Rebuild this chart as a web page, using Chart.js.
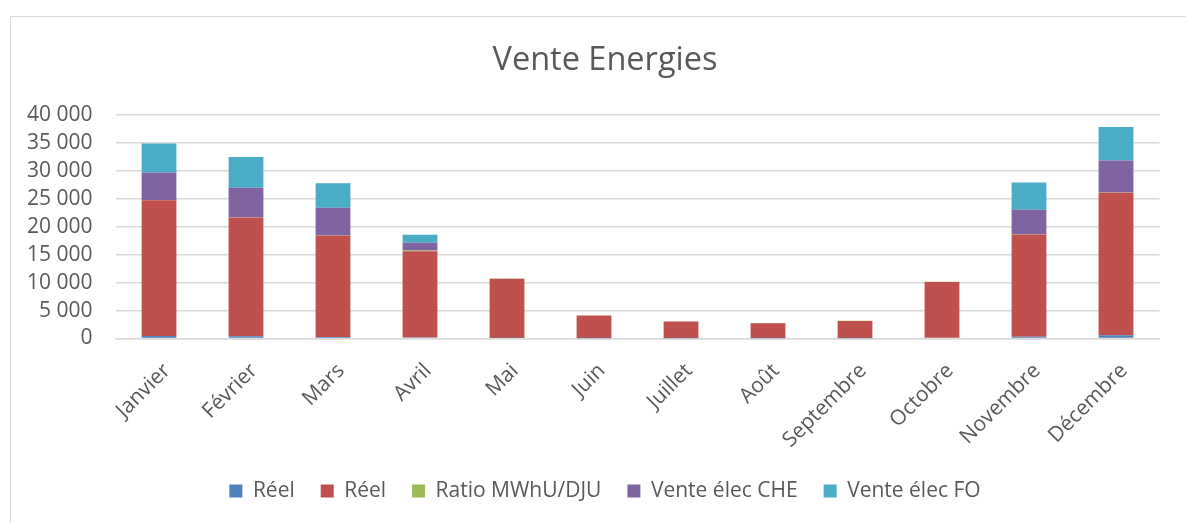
<!DOCTYPE html>
<html lang="fr">
<head>
    <meta charset="UTF-8">
    <title>Vente Energies</title>
    <script src="https://cdn.jsdelivr.net/npm/chart.js"></script>
    <style>
        body { margin: 0; background: #fff; overflow: hidden; }
        #frame { position: absolute; left: 10px; top: 16px; width: 1200px; height: 540px; border: 1px solid #d9d9d9; }
        #wrap { position: absolute; left: 0; top: 0; width: 1210px; height: 523px; }
    </style>
</head>
<body>
    <div id="frame"></div>
    <div id="wrap"><canvas id="chart" width="1210" height="523"></canvas></div>

    <script>
        // Données
        const mois = ['Janvier', 'Février', 'Mars', 'Avril', 'Mai', 'Juin', 'Juillet', 'Août', 'Septembre', 'Octobre', 'Novembre', 'Décembre'];
        const reelBleu = [430, 400, 250, 200, 100, 50, 30, 30, 50, 120, 300, 600];
        const reelRouge = [24300, 21240, 18180, 15430, 10600, 4050, 3000, 2715, 3100, 9990, 18310, 25500];
        const ratioMWhU = [40, 40, 30, 120, 60, 20, 10, 10, 20, 40, 40, 40];
        const venteCHE = [4940, 5280, 4920, 1370, 0, 0, 0, 0, 0, 0, 4385, 5700];
        const venteFO = [5170, 5530, 4400, 1430, 0, 0, 0, 0, 0, 0, 4884, 5990];
        const yTicks = { min: 0, max: 40000, step: 5000 };

        const texte = '#595959';
        const police = "'Open Sans', sans-serif";

        function serie(label, data, color) {
            return { label: label, data: data, backgroundColor: color, borderWidth: 0, barPercentage: 0.4, categoryPercentage: 1 };
        }

        new Chart(document.getElementById('chart'), {
            type: 'bar',
            data: {
                labels: mois,
                datasets: [
                    serie('Réel', reelBleu, '#4f81bd'),
                    serie('Réel', reelRouge, '#c0504d'),
                    serie('Ratio MWhU/DJU', ratioMWhU, '#9bbb59'),
                    serie('Vente élec CHE', venteCHE, '#8064a2'),
                    serie('Vente élec FO', venteFO, '#4bacc6')
                ]
            },
            options: {
                responsive: false,
                animation: false,
                layout: { padding: { left: 0, right: 0, top: 0, bottom: 11.5 } },
                plugins: {
                    title: {
                        display: true,
                        text: 'Vente Energies',
                        color: texte,
                        font: { family: police, size: 32.5, weight: 'normal' },
                        padding: { top: 41, bottom: 35 }
                    },
                    legend: {
                        position: 'bottom',
                        labels: {
                            color: texte,
                            font: { family: police, size: 21 },
                            boxWidth: 13,
                            boxHeight: 13,
                            padding: 26
                        }
                    },
                    tooltip: { enabled: false }
                },
                scales: {
                    x: {
                        stacked: true,
                        grid: { display: false, drawTicks: false },
                        border: { display: true, color: '#d9d9d9', width: 1.5 },
                        ticks: { color: texte, font: { family: police, size: 21 }, minRotation: 45, maxRotation: 45, padding: 20, labelOffset: 8 },
                        afterFit: s => { s.height = 116; }
                    },
                    y: {
                        stacked: true,
                        min: yTicks.min,
                        max: yTicks.max,
                        grid: { color: '#d9d9d9', lineWidth: 1.5, drawTicks: false },
                        border: { display: false },
                        ticks: {
                            stepSize: yTicks.step,
                            autoSkip: false,
                            color: texte,
                            font: { family: police, size: 21 },
                            padding: 23,
                            callback: v => v.toLocaleString('fr-FR').replace(/\s/g, ' ')
                        },
                        afterFit: s => { s.width = 115.5; }
                    },
                    // axe vide à droite : garde la zone de tracé à sa place, titre et légende centrés sur le cadre
                    marge: {
                        position: 'right',
                        grid: { display: false, drawTicks: false },
                        border: { display: false },
                        ticks: { display: false },
                        afterFit: s => { s.width = 50.5; }
                    }
                }
            }
        });
    </script>
</body>
</html>
